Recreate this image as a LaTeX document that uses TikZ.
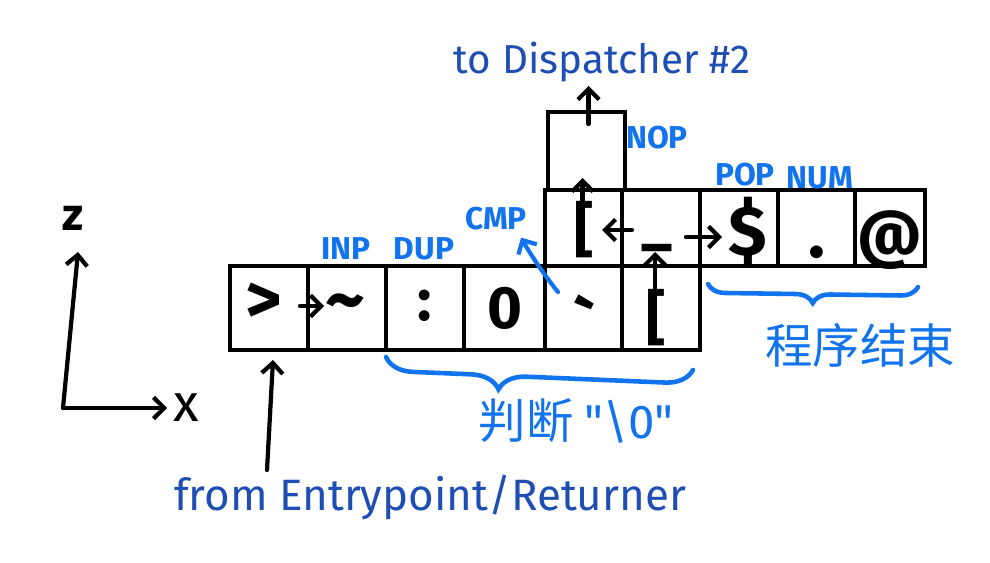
\documentclass[tikz,border=0pt]{standalone}
\usepackage{fontspec}
\setmainfont{Fira Sans}
\newfontfamily\gf{Fira Sans}
\newfontfamily\cjk{Noto Sans CJK SC}
\usetikzlibrary{arrows.meta,calc,decorations.pathreplacing}
\definecolor{lblue}{HTML}{1273EE}
\definecolor{dblue}{HTML}{1E4DB3}
\tikzset{
  cellbox/.style={draw, line width=2.8pt, inner sep=0pt, outer sep=0pt},
  glyph/.style={font=\fontsize{34}{34}\selectfont\gf\bfseries, inner sep=0pt},
  arr/.style={-{Straight Barb[length=6pt,width=12pt,line width=2.4pt]}, line width=2.4pt, line cap=round},
  op/.style={text=lblue, font=\fontsize{18}{18}\selectfont\bfseries, inner sep=1pt},
  dlabel/.style={text=dblue, font=\fontsize{25}{25}\selectfont},
  clabel/.style={text=lblue, font=\fontsize{27}{27}\selectfont\cjk},
  bracedeco/.style={decorate, draw=lblue, line width=2.6pt, line cap=round},
}
\begin{document}
\begin{tikzpicture}[x=0.02cm,y=-0.02cm]
\useasboundingbox (0,0) rectangle (990,563);
% bottom row
\node[cellbox, minimum width=78*0.02cm, minimum height=84*0.02cm] (b1) at (269,308) {};
\node[cellbox, minimum width=78*0.02cm, minimum height=84*0.02cm] (b2) at (347,308) {};
\node[cellbox, minimum width=78*0.02cm, minimum height=84*0.02cm] (b3) at (425,308) {};
\node[cellbox, minimum width=81*0.02cm, minimum height=84*0.02cm] (b4) at (504.5,308) {};
\node[cellbox, minimum width=77*0.02cm, minimum height=84*0.02cm] (b5) at (583.5,308) {};
\node[cellbox, minimum width=78*0.02cm, minimum height=84*0.02cm] (b6) at (661,308) {};
% upper row
\node[cellbox, minimum width=77*0.02cm, minimum height=76*0.02cm] (u1) at (583.5,228) {};
\node[cellbox, minimum width=78*0.02cm, minimum height=76*0.02cm] (u2) at (661,228) {};
\node[cellbox, minimum width=78*0.02cm, minimum height=76*0.02cm] (u3) at (739,228) {};
\node[cellbox, minimum width=77*0.02cm, minimum height=76*0.02cm] (u4) at (816.5,228) {};
\node[cellbox, minimum width=70*0.02cm, minimum height=76*0.02cm] (u5) at (890,228) {};
% top cell
\node[cellbox, minimum width=77*0.02cm, minimum height=78*0.02cm] (t) at (586.5,151) {};
% glyphs
\node[glyph, font=\fontsize{40}{40}\selectfont\gf\bfseries] (gb1) at (264,303) {>};
\node[glyph, font=\fontsize{44}{44}\selectfont\gf\bfseries] (gb2) at (345,310) {\symbol{126}};
\node[glyph] (gb3) at (425,306) {:};
\node[glyph] (gb4) at (505,308) {0};
\node[glyph, font=\fontsize{40}{40}\selectfont\gf\bfseries] (gb5) at (584,324) {\symbol{96}};
\node[glyph] (gb6) at (656,318) {[};
\node[glyph] (gu1) at (584,230) {[};
\node[glyph] (gu2) at (657,247) {\_};
\node[glyph, font=\fontsize{40}{40}\selectfont\gf\bfseries] (gu3) at (748,232) {\$};
\node[glyph, font=\fontsize{40}{40}\selectfont\gf\bfseries] (gu4) at (817,252) {.};
\node[glyph, font=\fontsize{36}{36}\selectfont\gf\bfseries] (gu5) at (890,240) {@};
% flow arrows
\draw[arr] ($(b1.east)+(-8,-2)$) -- ($(b2.west)+(16,-2)$);
\draw[arr] ($(b6.north)+(-6,26)$) -- ($(b6.north)+(-6,-14)$);
\draw[arr] ($(u2.west)+(10,2)$) -- ($(u1.east)+(-20,2)$);
\draw[arr] ($(u2.east)+(-14,9)$) -- ($(u3.west)+(22,9)$);
\draw[arr] ($(u1.north)+(-1,18)$) -- ($(u1.north)+(-1,-12)$);
\draw[arr] ($(t.north)+(2,12)$) -- ($(t.north)+(2,-26)$);
% op labels
\node[op] (inp) at (346,249) {INP};
\node[op] (dup) at (424,249) {DUP};
\node[op] (cmp) at (496,219) {CMP};
\node[op] (nop) at (657,138) {NOP};
\node[op] (pop) at (745,175) {POP};
\node[op] (num) at (820,178) {NUM};
\coordinate (cmpfrom) at ($(b5.north west)+(13,26)$);
\coordinate (cmpto) at ($(cmp.south east)+(-8,5)$);
\draw[arr, draw=lblue] (cmpfrom) .. controls +(-10,-12) and +(10,18) .. (cmpto);
% texts
\node[dlabel, font=\fontsize{23}{23}\selectfont] (disp) at (602,62) {to Dispatcher \#2};
\node[dlabel] (from) at (430,497) {from Entrypoint/Returner};
\coordinate (fromtail) at (267,470);
\draw[arr] (fromtail) -- ($(b1.south)+(4,10)$);
% braces
\draw[bracedeco, decoration={brace, mirror, amplitude=0.55cm, aspect=0.37}] (386,357) -- (693,370);
\node[clabel] (pd) at (576,421) {判断 {\fontspec{Fira Sans}"\textbackslash 0"}};
\draw[bracedeco, decoration={brace, mirror, amplitude=0.35cm, aspect=0.5}] (708,284) -- (918,287);
\node[clabel] (end) at (860,345) {程序结束};
% axes
\coordinate (o) at (63,408);
\coordinate (zt) at (78,252);
\coordinate (xt) at (167,408);
\draw[arr] (o) -- (zt);
\draw[arr] (o) -- (xt);
\node[font=\fontsize{26}{26}\selectfont\bfseries] (zl) at (73,218) {z};
\node[font=\fontsize{30}{30}\selectfont] (xl) at (186,408) {x};
\end{tikzpicture}
\end{document}
